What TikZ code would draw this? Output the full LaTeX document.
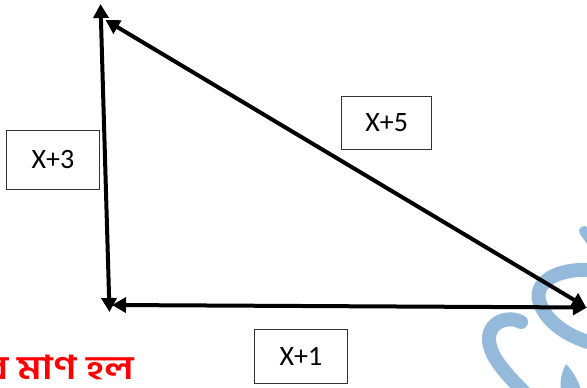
\documentclass[tikz,border=0pt]{standalone}
\usepackage{fontspec}
\setmainfont{Carlito}
\newfontfamily\bnfont[Script=Bengali,FakeStretch=1.2]{Hind Siliguri}
\usetikzlibrary{arrows.meta}
\definecolor{wm}{RGB}{149,185,219}
\begin{document}
\begin{tikzpicture}[x=1pt,y=-1pt,
  side/.style={line width=4pt,
    {Triangle[length=14pt,width=15pt]}-{Triangle[length=14pt,width=15pt]}},
  lbl/.style={draw=black!80, line width=1pt, inner sep=0pt,
    font=\fontsize{28}{34}\selectfont},
  wmark/.style={draw=wm, line width=14pt, line cap=round}]
\useasboundingbox (0,0) rectangle (587,388);
% watermark
\draw[wmark] (592,270) .. controls (555,268) and (535,283) .. (539,300)
  .. controls (543,318) and (565,338) .. (600,345);
\draw[wmark, line width=10pt] (584,231) -- (596,248);
\draw[wmark] (521,322) .. controls (505,314) and (484,325) .. (490,346)
  .. controls (494,362) and (510,378) .. (530,398);
\fill[wm] (566,364) .. controls (560,375) and (560,385) .. (561,392)
  -- (582,392) .. controls (578,380) and (572,370) .. (566,364) -- cycle;
% vertices
\coordinate (At) at (100.5,4);
\coordinate (Ab) at (109.5,312);
\coordinate (Bl) at (112,305);
\coordinate (Br) at (587,307.5);
\coordinate (Ct) at (105.5,20);
\coordinate (Cr) at (586,307);
% sides
\draw[side] (At) -- (Ab);
\draw[side] (Bl) -- (Br);
\draw[side] (Ct) -- (Cr);
% labels
\node[lbl, minimum width=92.5pt, minimum height=59pt] (l3) at (53,159.5) {X+3};
\node[lbl, minimum width=90pt, minimum height=52.5pt] (l5) at (386.7,123) {X+5};
\node[lbl, minimum width=93pt, minimum height=54pt] (l1) at (301,356.3) {X+1};
\node[anchor=base west, text=red, inner sep=0pt,
  font=\bnfont\bfseries\fontsize{33}{40}\selectfont] (bn) at (-13,379) {র মাণ হল};
\end{tikzpicture}
\end{document}
